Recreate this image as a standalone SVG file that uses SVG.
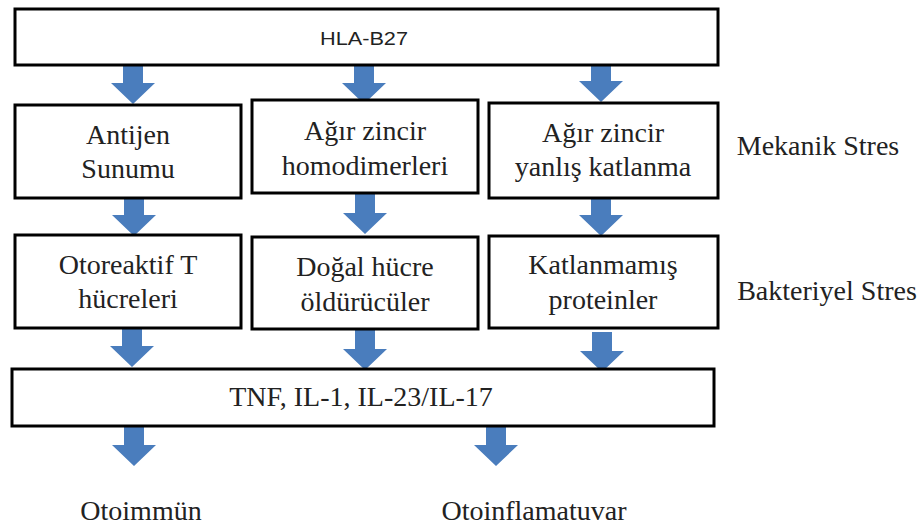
<svg xmlns="http://www.w3.org/2000/svg" width="924" height="529" viewBox="0 0 924 529">
<style>
.box{fill:#fff;stroke:#000;stroke-width:3}
.t{font-family:"Liberation Serif","Times New Roman",serif;font-size:28px;fill:#222;text-anchor:middle}
.s{font-family:"Liberation Sans",Arial,sans-serif;font-size:18px;fill:#222;text-anchor:middle}
.arr{fill:#4a7dbd}
</style>
<defs>
<path id="a" d="M-10,0 H10 V19 H22 L0,40 L-22,19 H-10 Z"/>
</defs>
<rect width="924" height="529" fill="#fff"/>
<g id="connectors">
<use href="#a" class="arr" x="133" y="64"/>
<use href="#a" class="arr" x="364" y="64"/>
<use href="#a" class="arr" x="601" y="62"/>
<use href="#a" class="arr" x="134" y="196"/>
<use href="#a" class="arr" x="365" y="194"/>
<use href="#a" class="arr" x="601" y="196"/>
<use href="#a" class="arr" x="132" y="327"/>
<use href="#a" class="arr" x="365" y="330"/>
<use href="#a" class="arr" x="602" y="332"/>
<use href="#a" class="arr" x="134" y="426"/>
<use href="#a" class="arr" x="496" y="426"/>
</g>
<g id="hla">
<rect class="box" x="15" y="9" width="703" height="56"/>
<text class="s" x="364" y="45" textLength="88" lengthAdjust="spacingAndGlyphs">HLA-B27</text>
</g>
<g id="antijen">
<rect class="box" x="15" y="105" width="226" height="93"/>
<text class="t" x="128" y="144">Antijen</text>
<text class="t" x="128" y="178">Sunumu</text>
</g>
<g id="homodimer">
<rect class="box" x="252" y="100" width="226" height="93"/>
<text class="t" x="365" y="140">Ağır zincir</text>
<text class="t" x="365" y="175">homodimerleri</text>
</g>
<g id="katlanma">
<rect class="box" x="489" y="103" width="229" height="95"/>
<text class="t" x="603" y="142">Ağır zincir</text>
<text class="t" x="603" y="176">yanlış katlanma</text>
</g>
<g id="tcell">
<rect class="box" x="15" y="235" width="226" height="93"/>
<text class="t" x="128" y="274">Otoreaktif T</text>
<text class="t" x="128" y="308">hücreleri</text>
</g>
<g id="nk">
<rect class="box" x="252" y="237" width="226" height="92"/>
<text class="t" x="365" y="276">Doğal hücre</text>
<text class="t" x="365" y="311">öldürücüler</text>
</g>
<g id="protein">
<rect class="box" x="489" y="236" width="229" height="92"/>
<text class="t" x="603" y="274">Katlanmamış</text>
<text class="t" x="603" y="309">proteinler</text>
</g>
<g id="cytokine">
<rect class="box" x="12" y="369" width="702" height="57"/>
<text class="t" x="361" y="406">TNF, IL-1, IL-23/IL-17</text>
</g>
<g id="mekanik"><text class="t" x="818" y="155">Mekanik Stres</text></g>
<g id="bakteriyel"><text class="t" x="827" y="300">Bakteriyel Stres</text></g>
<g id="otoimmun"><text class="t" x="141" y="520">Otoimmün</text></g>
<g id="otoinf"><text class="t" x="534" y="520">Otoinflamatuvar</text></g>
</svg>
